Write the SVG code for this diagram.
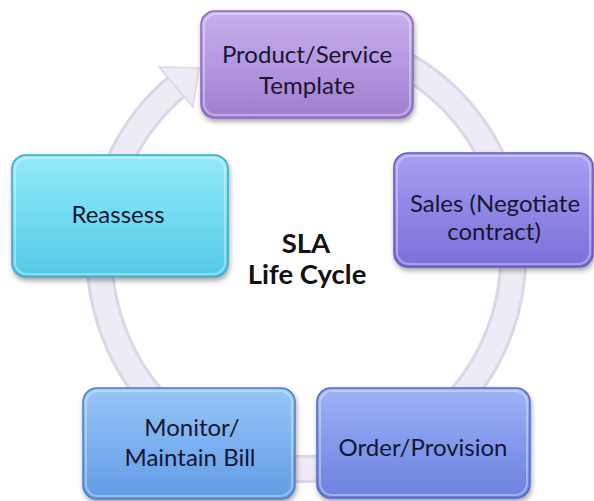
<svg xmlns="http://www.w3.org/2000/svg" width="594" height="501" viewBox="0 0 594 501">
  <style>
    .lbl { font-family: Lato, "Liberation Sans", sans-serif; font-size: 24px; fill: #161630; text-anchor: middle; }
    .ttl { font-family: Lato, "Liberation Sans", sans-serif; font-size: 27.5px; font-weight: bold; fill: #111; text-anchor: middle; }
    .hl { fill: none; stroke: #ffffff; stroke-opacity: 0.35; stroke-width: 2; }
  </style>
  <defs>
    <filter id="sh" x="-10%" y="-10%" width="125%" height="130%">
      <feDropShadow dx="1" dy="3" stdDeviation="2.5" flood-color="#000" flood-opacity="0.35"/>
    </filter>
    <linearGradient id="gTop" x1="0" y1="0" x2="0" y2="1">
      <stop offset="0" stop-color="#c7b0ec"/>
      <stop offset="0.5" stop-color="#b497e0"/>
      <stop offset="1" stop-color="#9e7dcf"/>
    </linearGradient>
    <linearGradient id="gSales" x1="0" y1="0" x2="0" y2="1">
      <stop offset="0" stop-color="#a7a0f2"/>
      <stop offset="0.5" stop-color="#8f86e6"/>
      <stop offset="1" stop-color="#7b70d8"/>
    </linearGradient>
    <linearGradient id="gRe" x1="0" y1="0" x2="0" y2="1">
      <stop offset="0" stop-color="#93e9f8"/>
      <stop offset="0.5" stop-color="#72dbf1"/>
      <stop offset="1" stop-color="#55c8e6"/>
    </linearGradient>
    <linearGradient id="gMon" x1="0" y1="0" x2="0" y2="1">
      <stop offset="0" stop-color="#98c5f7"/>
      <stop offset="0.5" stop-color="#7bb1f0"/>
      <stop offset="1" stop-color="#639be3"/>
    </linearGradient>
    <linearGradient id="gOrd" x1="0" y1="0" x2="0" y2="1">
      <stop offset="0" stop-color="#a0b3f5"/>
      <stop offset="0.5" stop-color="#8299ec"/>
      <stop offset="1" stop-color="#6c82dd"/>
    </linearGradient>
  </defs>
  <rect width="594" height="501" fill="#ffffff"/>

  <g id="connectors">
    <path d="M380,53 A207,215 0 1 1 176,87" fill="none" stroke="#dcd6e9" stroke-width="28"/>
    <path d="M380,53 A207,215 0 1 1 176,87" fill="none" stroke="#eeeaf6" stroke-width="22"/>
    <polygon points="159,67 199,68 193,107" fill="#eeeaf6" stroke="#dcd6e9" stroke-width="1.5"/>
  </g>

  <g id="node-template">
    <rect x="201" y="11" width="212" height="107" rx="14" fill="url(#gTop)" stroke="#8a66bb" stroke-width="1.5" filter="url(#sh)"/>
    <rect x="204" y="14" width="206" height="101" rx="12" class="hl"/>
    <text class="lbl" x="307" y="63">Product/Service</text>
    <text class="lbl" x="307" y="94">Template</text>
  </g>

  <g id="node-sales">
    <rect x="394" y="153" width="199" height="114" rx="14" fill="url(#gSales)" stroke="#6457c4" stroke-width="1.5" filter="url(#sh)"/>
    <rect x="397" y="156" width="193" height="108" rx="12" class="hl"/>
    <text class="lbl" x="495" y="212">Sales (Negotiate</text>
    <text class="lbl" x="494" y="240">contract)</text>
  </g>

  <g id="node-reassess">
    <rect x="12" y="155" width="216" height="122" rx="14" fill="url(#gRe)" stroke="#38a8c8" stroke-width="1.5" filter="url(#sh)"/>
    <rect x="15" y="158" width="210" height="116" rx="12" class="hl"/>
    <text class="lbl" x="118" y="223">Reassess</text>
  </g>

  <g id="node-monitor">
    <rect x="83" y="388" width="212" height="111" rx="14" fill="url(#gMon)" stroke="#4a80cc" stroke-width="1.5" filter="url(#sh)"/>
    <rect x="86" y="391" width="206" height="105" rx="12" class="hl"/>
    <text class="lbl" x="192" y="436">Monitor/</text>
    <text class="lbl" x="190" y="466">Maintain Bill</text>
  </g>

  <g id="node-order">
    <rect x="317" y="388" width="213" height="110" rx="14" fill="url(#gOrd)" stroke="#5468c8" stroke-width="1.5" filter="url(#sh)"/>
    <rect x="320" y="391" width="207" height="104" rx="12" class="hl"/>
    <text class="lbl" x="423" y="456">Order/Provision</text>
  </g>

  <g id="center-title">
    <text class="ttl" x="306" y="253">SLA</text>
    <text class="ttl" x="307" y="284">Life Cycle</text>
  </g>
</svg>
